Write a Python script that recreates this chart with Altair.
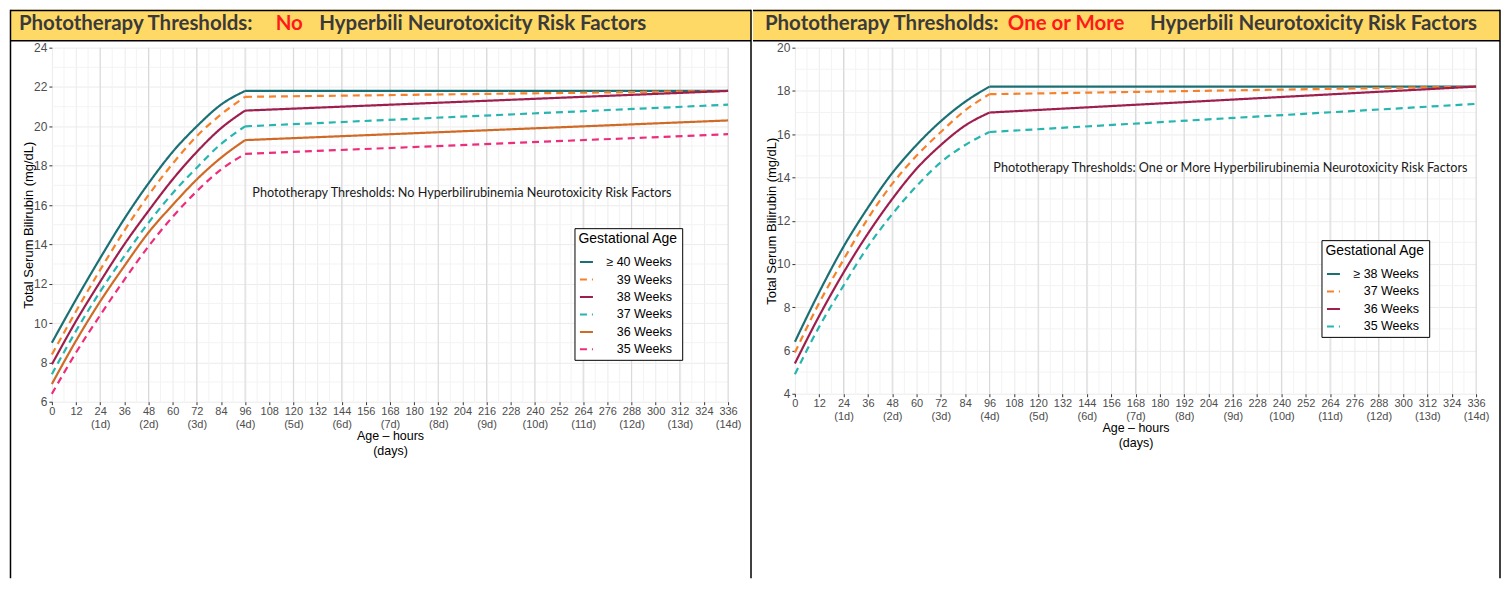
import altair as alt
import pandas as pd

# ---------------- data ----------------
CURVE_HOURS = [0, 12, 24, 36, 48, 60, 72, 84, 96]
HOUR_TICKS = list(range(0, 337, 12))
MINOR_HOURS = list(range(6, 337, 12))
DAY_HOURS = list(range(24, 337, 24))

# Left panel: no hyperbilirubinemia neurotoxicity risk factors
L_SERIES = ["≥ 40 Weeks", "39 Weeks", "38 Weeks", "37 Weeks", "36 Weeks", "35 Weeks"]
L_COLORS = ["#1B7075", "#F5822A", "#9E1F4E", "#27B5B0", "#CF6A27", "#EE2C7C"]
L_DASHES = [[1, 0], [7, 5], [1, 0], [7, 5], [1, 0], [7, 5]]
L_40_CURVE = [9.0, 11.2, 13.3, 15.3, 17.1, 18.7, 20.0, 21.1, 21.8]
L_39_CURVE = [8.4, 10.6, 12.7, 14.7, 16.5, 18.1, 19.5, 20.6, 21.5]
L_38_CURVE = [7.9, 10.1, 12.1, 14.0, 15.7, 17.3, 18.7, 19.9, 20.8]
L_37_CURVE = [7.4, 9.6, 11.6, 13.4, 15.1, 16.6, 17.9, 19.1, 20.0]
L_36_CURVE = [6.9, 9.1, 11.1, 12.9, 14.6, 16.0, 17.3, 18.4, 19.3]
L_35_CURVE = [6.4, 8.5, 10.4, 12.2, 13.9, 15.4, 16.7, 17.8, 18.6]
L_TAIL_HOURS = [96, 336]
L_40_TAIL = [21.8, 21.8]
L_39_TAIL = [21.5, 21.8]
L_38_TAIL = [20.8, 21.8]
L_37_TAIL = [20.0, 21.1]
L_36_TAIL = [19.3, 20.3]
L_35_TAIL = [18.6, 19.6]

# Right panel: one or more risk factors
R_SERIES = ["≥ 38 Weeks", "37 Weeks", "36 Weeks", "35 Weeks"]
R_COLORS = ["#1B7075", "#F5822A", "#9E1F4E", "#27B5B0"]
R_DASHES = [[1, 0], [7, 5], [1, 0], [7, 5]]
R_38_CURVE = [6.4, 8.7, 10.8, 12.6, 14.2, 15.5, 16.6, 17.5, 18.2]
R_37_CURVE = [5.9, 8.2, 10.2, 12.1, 13.7, 15.0, 16.1, 17.1, 17.85]
R_36_CURVE = [5.4, 7.6, 9.6, 11.4, 13.0, 14.4, 15.5, 16.4, 17.0]
R_35_CURVE = [4.9, 7.1, 9.0, 10.8, 12.3, 13.6, 14.7, 15.5, 16.1]
R_TAIL_HOURS = [96, 336]
R_38_TAIL = [18.2, 18.2]
R_37_TAIL = [17.85, 18.2]
R_36_TAIL = [17.0, 18.2]
R_35_TAIL = [16.1, 17.4]

L_NOTE = "Phototherapy Thresholds:  No Hyperbilirubinemia Neurotoxicity Risk Factors"
R_NOTE = "Phototherapy Thresholds:  One or More Hyperbilirubinemia Neurotoxicity Risk Factors"
L_HEADER = ["Phototherapy Thresholds:", "No", "Hyperbili Neurotoxicity Risk Factors"]
R_HEADER = ["Phototherapy Thresholds:", "One or More", "Hyperbili Neurotoxicity Risk Factors"]

AXIS_FONT = "Liberation Sans"
PAD = "\u200b" + "\u00a0" * 3   # zero-width char keeps the no-break spaces from being trimmed


def make_df(series, curves, tail_hours, tails):
    rows = []
    for s, c in zip(series, curves):
        for hr, v in zip(CURVE_HOURS, c):
            rows.append({"series": s, "hour": hr, "tsb": v, "part": "curve"})
    for s, t in zip(series, tails):
        for hr, v in zip(tail_hours, t):
            rows.append({"series": s, "hour": hr, "tsb": v, "part": "tail"})
    return pd.DataFrame(rows)


def panel(df, series, colors, dashes, ydom, W, H, leg_xy, note, note_xy,
          header, hdr_x, frame_l, frame_r, draw_left, draw_right):
    xscale = alt.Scale(domain=[0, 336], nice=False, zero=False)
    yscale = alt.Scale(domain=ydom, nice=False, zero=False)
    ytick = list(range(ydom[0], ydom[1] + 1, 2))
    yminor = list(range(ydom[0] + 1, ydom[1], 2))

    leg = alt.Legend(
        title="Gestational Age", orient="none", legendX=leg_xy[0], legendY=leg_xy[1],
        labelExpr="indexof(datum.label, '≥') == 0 ? datum.label : '" + PAD + "' + datum.label",
    )
    color = alt.Color("series:N", scale=alt.Scale(domain=series, range=colors), legend=leg)
    dash = alt.StrokeDash("series:N", scale=alt.Scale(domain=series, range=dashes), legend=leg)

    x_axis = alt.Axis(
        values=HOUR_TICKS, labelOverlap=False, labelFlush=False, labelBound=False,
        labelExpr="datum.value > 0 && datum.value % 24 == 0 ? [datum.label, '(' + (datum.value / 24) + 'd)'] : datum.label",
        labelLineHeight=12.5, labelFontSize=11, labelPadding=1,
        title=["Age – hours", "(days)"], titleY=28, titleLineHeight=14.5, titleFontSize=12.5,
    )
    y_axis = alt.Axis(
        values=ytick, labelFontSize=12, labelPadding=2,
        title="Total Serum Bilirubin (mg/dL)", titleFontSize=13, titleX=-23, titleBaseline="middle",
    )
    X = lambda f: alt.X(f, scale=xscale, axis=x_axis)
    Y = lambda f: alt.Y(f, scale=yscale, axis=y_axis)

    minor_v = alt.Chart(pd.DataFrame({"hour": MINOR_HOURS})).mark_rule(color="#F3F3F3", strokeWidth=1).encode(
        x=X("hour:Q"))
    day_v = alt.Chart(pd.DataFrame({"hour": DAY_HOURS})).mark_rule(color="#D9D9D9", strokeWidth=1).encode(
        x=X("hour:Q"))
    minor_h = alt.Chart(pd.DataFrame({"tsb": yminor})).mark_rule(color="#F3F3F3", strokeWidth=1).encode(
        y=Y("tsb:Q"))

    base = alt.Chart(df)
    curve = base.transform_filter("datum.part == 'curve'").mark_line(
        interpolate="monotone", strokeWidth=2.2).encode(
        x=X("hour:Q"), y=Y("tsb:Q"), color=color, strokeDash=dash)
    tail = base.transform_filter("datum.part == 'tail'").mark_line(strokeWidth=2.2).encode(
        x=X("hour:Q"), y=Y("tsb:Q"), color=color, strokeDash=dash)

    one = alt.Chart(pd.DataFrame({"k": [0]}))
    note_t = one.mark_text(font="Lato", fontSize=12.7, color="#1A1A1A", align="left", baseline="middle").encode(
        x=alt.value(note_xy[0]), y=alt.value(note_xy[1]), text=alt.value(note))

    top, hb, bottom = -38, -7, 532
    deco = [
        one.mark_rect(color="#FFD966").encode(
            x=alt.value(frame_l), x2=alt.value(frame_r), y=alt.value(top), y2=alt.value(hb)),
        one.mark_rule(color="black", strokeWidth=1.5).encode(
            x=alt.value(frame_l), x2=alt.value(frame_r), y=alt.value(top + 0.75)),
        one.mark_rule(color="black", strokeWidth=1.5).encode(
            x=alt.value(frame_l), x2=alt.value(frame_r), y=alt.value(hb)),
    ]
    if draw_left:
        deco.append(one.mark_rule(color="black", strokeWidth=1.5).encode(
            x=alt.value(frame_l), y=alt.value(top), y2=alt.value(bottom)))
    if draw_right:
        deco.append(one.mark_rule(color="black", strokeWidth=1.5).encode(
            x=alt.value(frame_r), y=alt.value(top), y2=alt.value(bottom)))

    hdr_colors = ["#3A3A3A", "#FF1A1A", "#3A3A3A"]
    hdr_align = ["left", "center", "right"]
    for txt, xx, cc, al in zip(header, hdr_x, hdr_colors, hdr_align):
        deco.append(one.mark_text(font="Lato", fontWeight="bold", fontSize=20.5, color=cc,
                                  align=al, baseline="middle").encode(
            x=alt.value(xx), y=alt.value(-23.5), text=alt.value(txt)))

    return alt.layer(minor_v, minor_h, day_v, curve, tail, note_t, *deco).properties(width=W, height=H)


left_df = make_df(L_SERIES, [L_40_CURVE, L_39_CURVE, L_38_CURVE, L_37_CURVE, L_36_CURVE, L_35_CURVE],
                  L_TAIL_HOURS, [L_40_TAIL, L_39_TAIL, L_38_TAIL, L_37_TAIL, L_36_TAIL, L_35_TAIL])
right_df = make_df(R_SERIES, [R_38_CURVE, R_37_CURVE, R_36_CURVE, R_35_CURVE],
                   R_TAIL_HOURS, [R_38_TAIL, R_37_TAIL, R_36_TAIL, R_35_TAIL])

left = panel(left_df, L_SERIES, L_COLORS, L_DASHES, [6, 24], 678, 355, (524, 181),
             L_NOTE, (201, 146), L_HEADER, (-33, 238, 596), -41.5, 701, True, True)
right = panel(right_df, R_SERIES, R_COLORS, R_DASHES, [4, 20], 683, 347, (528, 193),
              R_NOTE, (199, 121), R_HEADER, (-30, 272, 684), -42, 707, False, True)

chart = alt.hconcat(left, right, spacing=0).resolve_scale(
    color="independent", strokeDash="independent", x="independent", y="independent"
).resolve_legend(color="independent", strokeDash="independent").properties(
    padding={"left": 1, "top": 0, "right": 0, "bottom": 0}
).configure_view(strokeWidth=0).configure_axis(
    labelFont=AXIS_FONT, titleFont=AXIS_FONT, labelColor="#4D4D4D", titleColor="black",
    titleFontWeight="normal", domain=False, ticks=True, tickColor="#333333", tickSize=3,
    gridColor="#EBEBEB", gridWidth=1,
).configure_legend(
    titleFont=AXIS_FONT, labelFont=AXIS_FONT, titleFontSize=14, titleFontWeight="normal",
    labelFontSize=12.5, titleColor="black", labelColor="black",
    symbolType="stroke", symbolSize=170, symbolStrokeWidth=2,
    strokeColor="black", fillColor="white", padding=4, titlePadding=8, rowPadding=2.5, labelOffset=12,
)

chart.save("out.html", embed_options={"renderer": "svg", "actions": False})
